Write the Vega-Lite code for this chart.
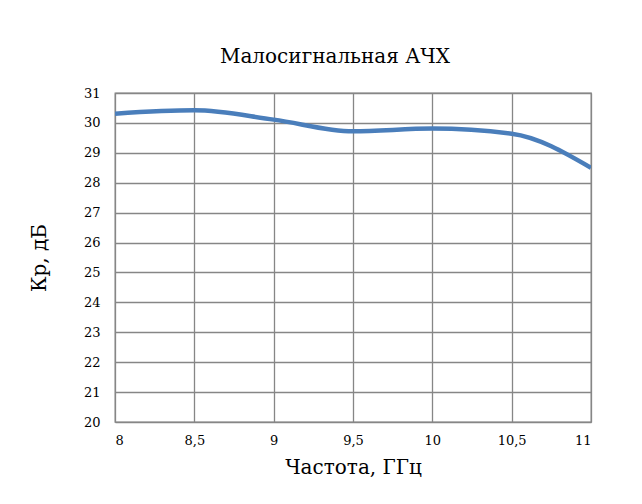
{
  "$schema": "https://vega.github.io/schema/vega-lite/v6.json",
  "autosize": "none",
  "width": 476,
  "height": 329,
  "padding": {"left": 115, "top": 93, "right": 51, "bottom": 82},
  "background": "white",
  "title": {
    "text": "Малосигнальная АЧХ",
    "font": "DejaVu Serif",
    "fontSize": 20,
    "fontWeight": "normal",
    "color": "#000000",
    "anchor": "middle",
    "dx": -18,
    "offset": 20
  },
  "data": {
    "values": [
      {"f": 8, "kp": 30.31},
      {"f": 8.5, "kp": 30.42},
      {"f": 9, "kp": 30.11},
      {"f": 9.5, "kp": 29.72},
      {"f": 10, "kp": 29.81},
      {"f": 10.5, "kp": 29.64},
      {"f": 11, "kp": 28.5}
    ]
  },
  "mark": {"type": "line", "interpolate": "monotone", "color": "#4A7EBB", "strokeWidth": 4.5, "clip": true},
  "encoding": {
    "x": {
      "field": "f",
      "type": "quantitative",
      "scale": {"domain": [8, 11], "nice": false},
      "axis": {
        "title": "Частота, ГГц",
        "values": [8, 8.5, 9, 9.5, 10, 10.5, 11],
        "labelExpr": "replace(format(datum.value, ''), '.', ',')",
        "labelPadding": 12,
        "titlePadding": 10
      }
    },
    "y": {
      "field": "kp",
      "type": "quantitative",
      "scale": {"domain": [20, 31], "nice": false, "zero": false},
      "axis": {
        "title": "Кр, дБ",
        "values": [20, 21, 22, 23, 24, 25, 26, 27, 28, 29, 30, 31],
        "labelPadding": 15,
        "titlePadding": 34
      }
    }
  },
  "config": {
    "view": {"stroke": "#868686", "strokeWidth": 1.3},
    "axis": {
      "grid": true,
      "gridColor": "#868686",
      "gridWidth": 1.3,
      "gridOpacity": 1,
      "domain": false,
      "ticks": false,
      "labelFont": "DejaVu Serif",
      "labelFontSize": 13,
      "labelColor": "#000000",
      "titleFont": "DejaVu Serif",
      "titleFontSize": 20,
      "titleFontWeight": "normal",
      "titleColor": "#000000"
    }
  }
}
